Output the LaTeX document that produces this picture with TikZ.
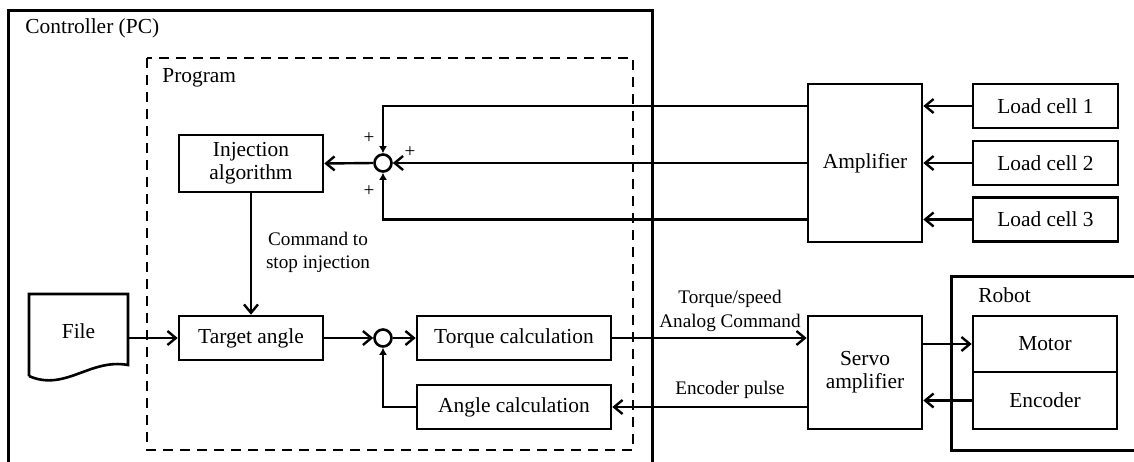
\documentclass[tikz,border=0pt]{standalone}
\usepackage{fontspec}
\setmainfont{Liberation Serif}
\usepackage{tikz}
\usetikzlibrary{positioning,arrows.meta}
\newcommand{\mainsize}{\fontsize{10.7}{12.6}\selectfont}
\newcommand{\labsize}{\fontsize{9.6}{11.6}\selectfont}
\tikzset{
  flowarrow/.style={-{Straight Barb[length=4.2pt, width=7pt, line width=1.2pt]}, line width=1.2pt},
  sumarrow/.style={-{Latex[length=3.5pt, width=4pt]}, line width=1.2pt},
  block/.style={draw, line width=1.3pt, minimum width=72pt, minimum height=22pt, align=center, font=\mainsize},
  calcblock/.style={block, minimum width=97pt},
  ampblock/.style={block, minimum width=57pt},
  cellblock/.style={block, minimum width=72.5pt},
  sumnode/.style={draw, circle, line width=1.3pt, minimum size=8.5pt, inner sep=0pt},
  frame/.style={line width=1.5pt},
  progframe/.style={line width=1.3pt, dash pattern=on 5pt off 3.5pt},
  titlelabel/.style={anchor=west, font=\mainsize, inner sep=0pt},
  siglabel/.style={font=\labsize, align=center, inner sep=1pt}
}

\begin{document}
\begin{tikzpicture}[x=0.5pt, y=-0.5pt]
  \clip (0,0) rectangle (1134,461);
  % frames
  \draw[frame] (8,475) -- (8,10) -- (652,10) -- (652,475);
  \node[titlelabel] (pc) at (25,28) {Controller (PC)};
  \draw[progframe] (147,58) rectangle (633,450);
  \node[titlelabel] (prog) at (162,78) {Program};
  \draw[frame] (1145,276) -- (951,276) -- (951,450) -- (1145,450);
  \node[titlelabel] (robot) at (978,295) {Robot};

  % program blocks
  \node[block, minimum height=28.5pt] (inj) at (251,163.5) {Injection\\[-1pt]algorithm};
  \node[sumnode] (sum1) at (383,163) {};
  \node[block] (target) at (251,338) {Target angle};
  \node[sumnode] (sum2) at (383,338) {};
  \node[calcblock] (torque) at (514,338) {Torque calculation};
  \node[calcblock] (anglec) at (514,407) {Angle calculation};

  % file
  \node[font=\mainsize, minimum width=49.5pt, inner sep=0pt] (file) at (78.5,331) {File};
  \draw[line width=1.3pt] (29,376) -- (29,294) -- (128,294) -- (128,365)
    .. controls (90,358) and (65,392) .. (29,376);

  % outside blocks
  \node[ampblock, minimum height=79pt] (amp) at (865,163) {Amplifier};
  \node[cellblock] (lc1) at (1045.5,106) {Load cell 1};
  \node[cellblock] (lc2) at (1045.5,163) {Load cell 2};
  \node[cellblock] (lc3) at (1045.5,219.5) {Load cell 3};
  \node[ampblock, minimum height=56.5pt] (servo) at (865,372.5) {Servo\\[-1pt]amplifier};
  \node[block, minimum height=28pt] (motor) at (1045,344) {Motor};
  \node[block, minimum height=28.5pt] (enc) at (1045,400.5) {Encoder};

  % load cells to amplifier
  \foreach \c in {lc1,lc2,lc3}
    \draw[flowarrow] (\c.west) -- (amp.east |- \c.west);

  % amplifier to summing point
  \draw[sumarrow] (amp.west |- lc1.west) -| (sum1.north);
  \draw[flowarrow] (amp.west) -- (sum1.east);
  \draw[sumarrow] (amp.west |- lc3.west) -| (sum1.south);
  \draw[flowarrow] (sum1.west) -- (inj.east);
  \node[siglabel] (p1) at (369,138) {+};
  \node[siglabel] (p2) at (410,152) {+};
  \node[siglabel] (p3) at (369,191) {+};

  % angle loop
  \draw[flowarrow] (inj.south) -- (target.north);
  \node[siglabel] (stop) at (318,252) {Command to\\stop injection};
  \draw[flowarrow] (file.east |- target.west) -- (target.west);
  \draw[flowarrow] (target.east) -- (sum2.west);
  \draw[flowarrow] (sum2.east) -- (torque.west);
  \draw[sumarrow] (anglec.west) -| (sum2.south);

  % servo side
  \draw[flowarrow] (torque.east) -- (servo.west |- torque.east);
  \node[siglabel] (cmd) at (730,311) {Torque/speed\\Analog Command};
  \draw[flowarrow] (servo.west |- anglec.east) -- (anglec.east);
  \node[siglabel] (pulse) at (730,390) {Encoder pulse};
  \draw[flowarrow] (servo.east |- motor.west) -- (motor.west);
  \draw[flowarrow] (enc.west) -- (servo.east |- enc.west);
\end{tikzpicture}
\end{document}
